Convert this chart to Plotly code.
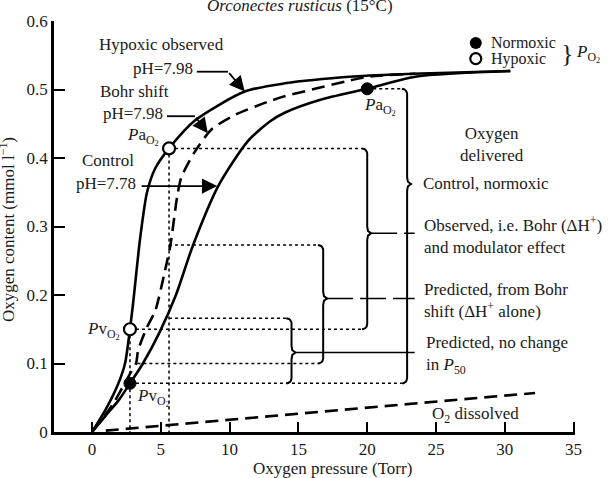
import numpy as np
import plotly.graph_objects as go

# ---------------- data ----------------
control_p = [0, 1.0, 2.0, 2.76, 3.7, 4.9, 6.1, 7.35, 9.2, 11.3, 12.9, 14.0, 16.6, 20.0, 23.6, 30.4]
control_c = [0, 0.024, 0.048, 0.071, 0.10, 0.145, 0.20, 0.273, 0.36, 0.424, 0.453, 0.466, 0.485, 0.501, 0.519, 0.527]

hypoxic_p = [0, 1.0, 1.9, 2.4, 2.76, 3.0, 3.5, 4.0, 4.6, 5.6, 7.5, 11.1, 14.0, 19.0, 23.3, 30.4]
hypoxic_c = [0, 0.033, 0.070, 0.10, 0.15, 0.19, 0.283, 0.35, 0.385, 0.414, 0.455, 0.497, 0.509, 0.519, 0.523, 0.527]

bohr_p = [0, 1.5, 2.76, 3.2, 3.35, 4.0, 4.6, 5.3, 5.7, 6.2, 6.5, 7.5, 8.7, 10.4, 12.9, 14.0, 18.5, 20.2, 23.5]
bohr_c = [0, 0.04, 0.085, 0.10, 0.119, 0.153, 0.177, 0.235, 0.273, 0.345, 0.372, 0.41, 0.442, 0.463, 0.483, 0.49, 0.512, 0.519, 0.523]

dissolved_p = [1.0, 32.2]
dissolved_c = [0.002, 0.057]

normoxic_pts_p = [20.0, 2.76]    # Pa, Pv
normoxic_pts_c = [0.501, 0.071]
hypoxic_pts_p = [5.6, 2.76]      # Pa, Pv
hypoxic_pts_c = [0.414, 0.15]

bohr_at_pa, bohr_at_pv = 0.273, 0.10
control_at_pa_hyp = 0.166

x_ticks = [0, 5, 10, 15, 20, 25, 30, 35]
y_ticks = [0, 0.1, 0.2, 0.3, 0.4, 0.5, 0.6]
y_ticklabels = ["0", "0.1", "0.2", "0.3", "0.4", "0.5", "0.6"]

FONT = "Liberation Serif"
TXT = "#1a1a1a"
O2 = "<sub>O<sub>2</sub></sub>"

fig = go.Figure()

def line(xs, ys, width=1.5, dash=None, color="black", shape="linear"):
    fig.add_trace(go.Scatter(x=xs, y=ys, mode="lines", cliponaxis=False, hoverinfo="skip",
                             line=dict(color=color, width=width, dash=dash, shape=shape,
                                       smoothing=0.7 if shape == "spline" else None),
                             showlegend=False))

# dotted guide lines
pa_n, pv_n = normoxic_pts_p
ca_n, cv_n = normoxic_pts_c
pa_h, pv_h = hypoxic_pts_p
ca_h, cv_h = hypoxic_pts_c

bx_big, bx_obs, bx_bohr, bx_nc = 22.9, 20.0, 16.8, 14.5
rx, ry = 0.38, 0.0075

line([pa_n, bx_big - rx], [ca_n, ca_n], dash="dot")
line([pa_h, bx_obs - rx], [ca_h, ca_h], dash="dot")
line([pa_h, bx_bohr - rx], [bohr_at_pa, bohr_at_pa], dash="dot")
line([pa_h, bx_nc - rx], [control_at_pa_hyp, control_at_pa_hyp], dash="dot")
line([pv_h, bx_obs - rx], [cv_h, cv_h], dash="dot")
line([3.3, bx_bohr - rx], [bohr_at_pv, bohr_at_pv], dash="dot")
line([pv_n, bx_big - rx], [cv_n, cv_n], dash="dot")
line([pv_h, pv_h], [cv_h, 0], dash="dot")
line([pa_h, pa_h], [ca_h, 0], dash="dot")

# braces
def brace(x, y_top, y_bot, y_tip):
    t = np.linspace(0, np.pi / 2, 7)
    xs, ys = [], []
    xs += list(x - rx + rx * np.sin(t)); ys += list(y_top - ry + ry * np.cos(t))
    xs += [x, x + 0.15 * rx, x + 0.75 * rx, x + 0.15 * rx, x]
    ys += [y_tip + 1.3 * ry, y_tip + 0.45 * ry, y_tip, y_tip - 0.45 * ry, y_tip - 1.3 * ry]
    xs += list(x - rx + rx * np.cos(t)); ys += list(y_bot + ry - ry * np.sin(t))
    line(xs, ys, width=2.0)

tip_big, tip_obs, tip_bohr, tip_nc = 0.362, 0.29, 0.195, 0.116
brace(bx_big, ca_n, cv_n, tip_big)
brace(bx_obs, ca_h, cv_h, tip_obs)
brace(bx_bohr, bohr_at_pa, bohr_at_pv, tip_bohr)
brace(bx_nc, control_at_pa_hyp, cv_n, tip_nc)

# leaders from braces to labels
lead_end = 23.45
line([bx_obs + 0.75 * rx, lead_end], [tip_obs, tip_obs], width=1.5, dash="26px,7px")
line([bx_bohr + 0.75 * rx, lead_end], [tip_bohr, tip_bohr], width=1.5, dash="26px,7px")
line([bx_nc + 0.75 * rx, lead_end], [tip_nc, tip_nc], width=1.5)

# curves
line(dissolved_p, dissolved_c, width=2.6, dash="13px,7px")
line(control_p, control_c, width=2.6, shape="spline")
line(bohr_p, bohr_c, width=2.6, dash="13px,7px", shape="spline")
line(hypoxic_p, hypoxic_c, width=2.6, shape="spline")

# leader lines for curve labels
line([7.62, 9.88], [0.526, 0.526], width=1.8)
line([5.45, 7.48], [0.461, 0.461], width=1.8)

# points
fig.add_trace(go.Scatter(x=normoxic_pts_p, y=normoxic_pts_c, mode="markers", cliponaxis=False,
                         marker=dict(size=12, color="black", line=dict(color="black", width=1)),
                         showlegend=False, hoverinfo="skip"))
fig.add_trace(go.Scatter(x=hypoxic_pts_p, y=hypoxic_pts_c, mode="markers", cliponaxis=False,
                         marker=dict(size=12, color="white", line=dict(color="black", width=2.2)),
                         showlegend=False, hoverinfo="skip"))
# legend symbols
fig.add_trace(go.Scatter(x=[27.89], y=[0.568], mode="markers", cliponaxis=False,
                         marker=dict(size=12, color="black"), showlegend=False, hoverinfo="skip"))
fig.add_trace(go.Scatter(x=[27.89], y=[0.545], mode="markers", cliponaxis=False,
                         marker=dict(size=11, color="white", line=dict(color="black", width=2.2)),
                         showlegend=False, hoverinfo="skip"))

ann = []
def text(x, y, s, xanchor="left", size=17, xref="x", yref="y", angle=0, align="left"):
    ann.append(dict(x=x, y=y, xref=xref, yref=yref, text=s, showarrow=False, xanchor=xanchor,
                    yanchor="middle", textangle=angle, align=align,
                    font=dict(family=FONT, size=size, color=TXT)))

def arrow(x0, y0, x1, y1):
    ann.append(dict(x=x1, y=y1, ax=x0, ay=y0, xref="x", yref="y", axref="x", ayref="y", text="",
                    showarrow=True, arrowhead=2, arrowsize=1.7, arrowwidth=1.8, arrowcolor="black",
                    standoff=0))

text(0.36, 0.565, "Hypoxic observed")
text(7.48, 0.531, "pH=7.98", xanchor="right")
text(0.44, 0.497, "Bohr shift")
text(5.3, 0.465, "pH=7.98", xanchor="right")
text(5.0, 0.432, "<i>P</i>a" + O2, xanchor="right")
text(-0.87, 0.397, "Control")
text(3.34, 0.363, "pH=7.78", xanchor="right")
text(2.18, 0.148, "<i>P</i>v" + O2, xanchor="right")
text(3.12, 0.051, "<i>P</i>v" + O2)
text(19.6, 0.475, "<i>P</i>a" + O2)
text(29.1, 0.42, "Oxygen<br>delivered", xanchor="center", align="center")
text(23.9, 0.363, "Control, normoxic")
text(23.96, 0.287, "Observed, i.e. Bohr (ΔH<sup>+</sup>)<br>and modulator effect")
text(23.96, 0.192, "Predicted, from Bohr<br>shift (ΔH<sup>+</sup> alone)")
text(24.1, 0.113, "Predicted, no change<br>in <i>P</i><sub>50</sub>")
text(27.9, 0.025, "O<sub>2</sub> dissolved", xanchor="center")
text(28.83, 0.569, "Normoxic", size=16)
text(28.83, 0.544, "Hypoxic", size=16)
text(34.5, 0.553, "}", xanchor="center", size=26)
text(35.0, 0.552, "<i>P</i>" + O2)

arrow(9.88, 0.526, 11.1, 0.497)
arrow(7.48, 0.461, 8.42, 0.436)
arrow(3.5, 0.359, 9.1, 0.359)

# titles
text(0.472, 1.0387, "<i>Orconectes rusticus</i> (15°C)", xanchor="center", xref="paper", yref="paper")
text(0.5336, -0.088, "Oxygen pressure (Torr)", xanchor="center", xref="paper", yref="paper")
text(-0.0902, 0.4915, "Oxygen content (mmol l<sup>−1</sup>)", xanchor="center", xref="paper", yref="paper",
     angle=-90)

fig.update_layout(
    width=614, height=478, margin=dict(l=54, r=39, t=19, b=46),
    plot_bgcolor="white", paper_bgcolor="white", annotations=ann, showlegend=False,
    font=dict(family=FONT, size=17, color=TXT),
)
fig.update_xaxes(range=[-2.76, 35.1], showline=True, linewidth=2.5, linecolor="black",
                 ticks="inside", ticklen=10, tickwidth=2, tickcolor="black",
                 tickvals=x_ticks, showgrid=False, zeroline=False,
                 tickfont=dict(family=FONT, size=17, color=TXT))
fig.update_yaxes(range=[0, 0.6], showline=True, linewidth=2.5, linecolor="black",
                 ticks="inside", ticklen=11, tickwidth=2, tickcolor="black",
                 tickvals=y_ticks, ticktext=y_ticklabels, showgrid=False, zeroline=False,
                 tickfont=dict(family=FONT, size=17, color=TXT))

fig.write_html("out.html")
